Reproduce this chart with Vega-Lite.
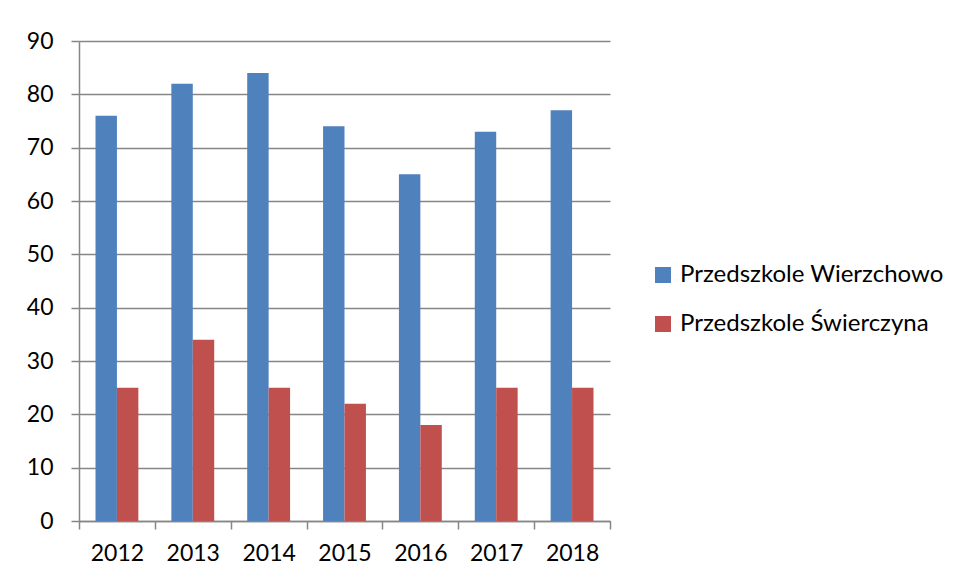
{
  "$schema": "https://vega.github.io/schema/vega-lite/v6.json",
  "autosize": {"type": "none"},
  "padding": {"left": 79, "top": 41, "right": 346, "bottom": 59},
  "width": 531,
  "height": 480,
  "background": "white",
  "config": {
    "font": "Lato",
    "view": {"stroke": null}
  },
  "data": {
    "values": [
      {"rok": "2012", "seria": "Przedszkole Wierzchowo", "wartosc": 76},
      {"rok": "2012", "seria": "Przedszkole Świerczyna", "wartosc": 25},
      {"rok": "2013", "seria": "Przedszkole Wierzchowo", "wartosc": 82},
      {"rok": "2013", "seria": "Przedszkole Świerczyna", "wartosc": 34},
      {"rok": "2014", "seria": "Przedszkole Wierzchowo", "wartosc": 84},
      {"rok": "2014", "seria": "Przedszkole Świerczyna", "wartosc": 25},
      {"rok": "2015", "seria": "Przedszkole Wierzchowo", "wartosc": 74},
      {"rok": "2015", "seria": "Przedszkole Świerczyna", "wartosc": 22},
      {"rok": "2016", "seria": "Przedszkole Wierzchowo", "wartosc": 65},
      {"rok": "2016", "seria": "Przedszkole Świerczyna", "wartosc": 18},
      {"rok": "2017", "seria": "Przedszkole Wierzchowo", "wartosc": 73},
      {"rok": "2017", "seria": "Przedszkole Świerczyna", "wartosc": 25},
      {"rok": "2018", "seria": "Przedszkole Wierzchowo", "wartosc": 77},
      {"rok": "2018", "seria": "Przedszkole Świerczyna", "wartosc": 25}
    ]
  },
  "mark": {"type": "bar"},
  "encoding": {
    "x": {
      "field": "rok",
      "type": "nominal",
      "scale": {"paddingInner": 0, "paddingOuter": 0},
      "axis": {
        "title": null,
        "labelAngle": 0,
        "labelFontSize": 23,
        "labelColor": "#000000",
        "labelPadding": 13,
        "tickBand": "extent",
        "tickSize": 8,
        "tickColor": "#868686",
        "tickWidth": 1.5,
        "domainColor": "#868686",
        "domainWidth": 1.5
      }
    },
    "xOffset": {
      "field": "seria",
      "type": "nominal",
      "sort": ["Przedszkole Wierzchowo", "Przedszkole Świerczyna"],
      "scale": {"paddingInner": 0, "paddingOuter": 0.77}
    },
    "y": {
      "field": "wartosc",
      "type": "quantitative",
      "scale": {"domain": [0, 90]},
      "axis": {
        "title": null,
        "values": [0, 10, 20, 30, 40, 50, 60, 70, 80, 90],
        "labelFontSize": 23,
        "labelColor": "#000000",
        "labelPadding": 18,
        "tickSize": 8,
        "tickColor": "#868686",
        "tickWidth": 1.5,
        "domainColor": "#868686",
        "domainWidth": 1.5,
        "grid": true,
        "gridColor": "#868686",
        "gridWidth": 1.5
      }
    },
    "color": {
      "field": "seria",
      "type": "nominal",
      "sort": ["Przedszkole Wierzchowo", "Przedszkole Świerczyna"],
      "scale": {
        "domain": ["Przedszkole Wierzchowo", "Przedszkole Świerczyna"],
        "range": ["#4F81BD", "#C0504D"]
      },
      "legend": {
        "title": null,
        "orient": "none",
        "legendX": 572,
        "legendY": 222,
        "padding": 0,
        "symbolType": "square",
        "symbolSize": 256,
        "symbolStrokeWidth": 0,
        "labelFontSize": 24,
        "labelColor": "#000000",
        "labelOffset": 5,
        "rowPadding": 25,
        "labelLimit": 400
      }
    }
  }
}
